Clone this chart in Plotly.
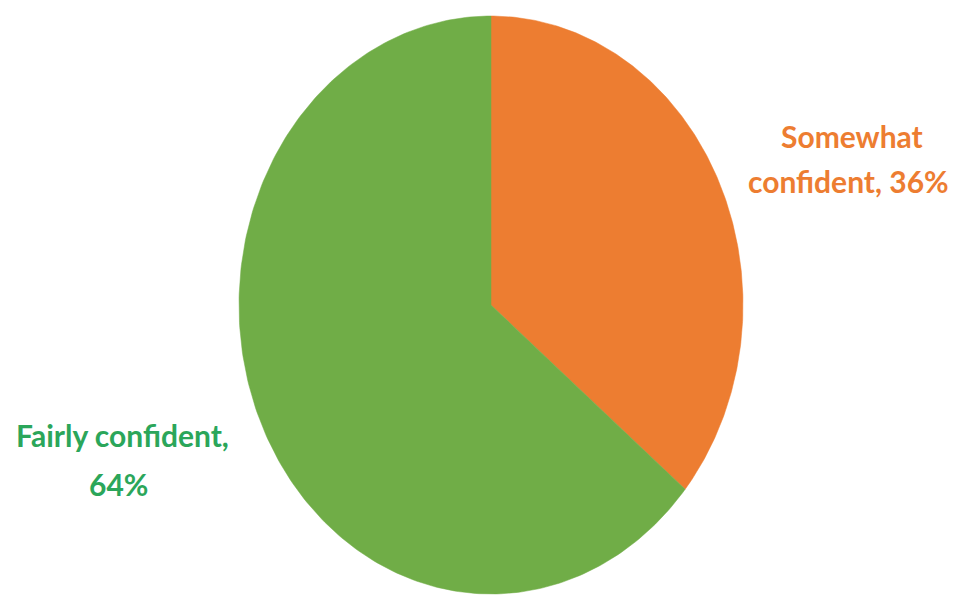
import numpy as np
import plotly.graph_objects as go

labels = ["Somewhat confident", "Fairly confident"]
values = [36, 64]
slice_colors = ["#ED7D31", "#70AD47"]
text_colors = ["#ED7D31", "#2BA65A"]

W, H = 960, 599
OFF = 8  # default page body margin


def px(x):
    return x - OFF


def py(y):
    return H - (y - OFF)


cx, cy = px(491), py(305)
rx, ry = 252, 289

fig = go.Figure()
total = sum(values)
start = 0.0
for lab, v, col in zip(labels, values, slice_colors):
    a0 = start / total * 2 * np.pi
    a1 = (start + v) / total * 2 * np.pi
    t = np.linspace(a0, a1, 240)
    xs = np.concatenate([[cx], cx + rx * np.sin(t), [cx]])
    ys = np.concatenate([[cy], cy + ry * np.cos(t), [cy]])
    fig.add_trace(go.Scatter(x=xs, y=ys, fill="toself", fillcolor=col, mode="lines",
                             line=dict(color=col, width=0.5), hoverinfo="text",
                             text=f"{lab}, {v}%", showlegend=False))
    start += v

font_family = "Lato"
fs = 30
lines = [
    ("<b>Somewhat</b>", 852, 136, text_colors[0]),
    (f"<b>confident, {values[0]}%</b>", 848, 181, text_colors[0]),
    ("<b>Fairly confident,</b>", 122, 435, text_colors[1]),
    (f"<b>{values[1]}%</b>", 118, 484, text_colors[1]),
]
for txt, x, y, c in lines:
    fig.add_annotation(x=px(x), y=py(y), text=txt, showarrow=False,
                       xanchor="center", yanchor="middle",
                       font=dict(family=font_family, size=fs, color=c))

fig.update_layout(width=W, height=H, margin=dict(l=0, r=0, t=0, b=0),
                  paper_bgcolor="white", plot_bgcolor="white",
                  xaxis=dict(range=[0, W], visible=False, fixedrange=True),
                  yaxis=dict(range=[0, H], visible=False, fixedrange=True))
fig.write_html("out.html")
